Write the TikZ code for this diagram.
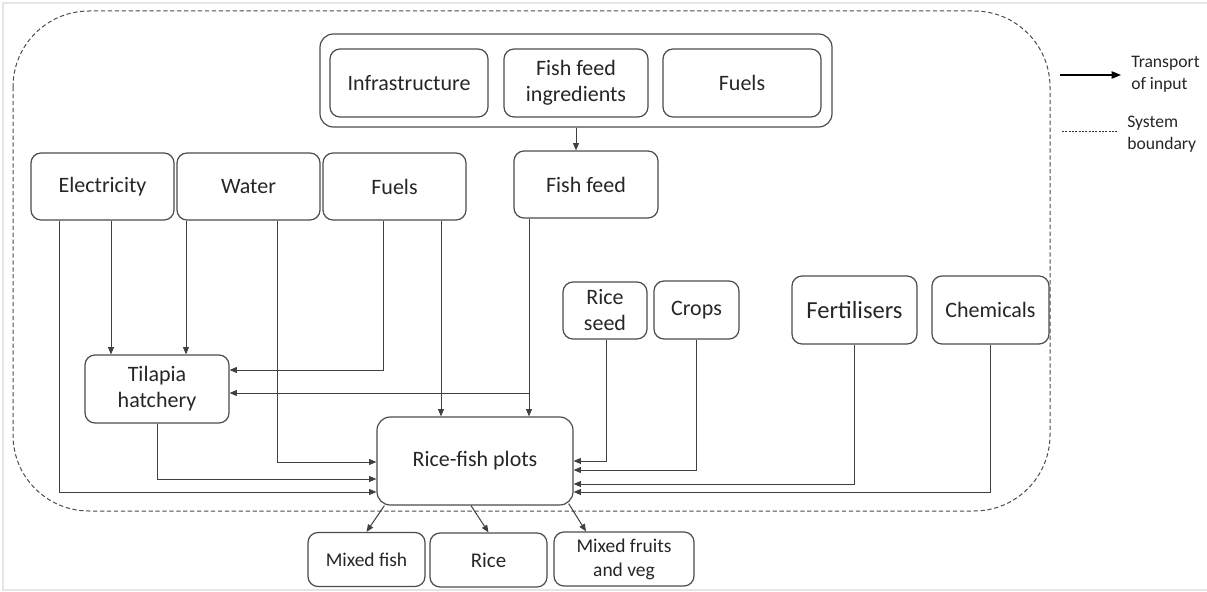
\documentclass[tikz,border=0pt]{standalone}
\usepackage{fontspec}
\setmainfont{Carlito}
\usetikzlibrary{arrows.meta}

\tikzset{
  box/.style={draw=black!70, line width=0.9pt, rounded corners=7.5pt, align=center, inner sep=0pt,
    text=black!85, font=\fontsize{16.5}{19.5}\selectfont},
  outbox/.style={box, font=\fontsize{14.6}{18}\selectfont, minimum width=87.75pt, minimum height=40.5pt},
  arr/.style={draw=black!75, line width=0.75pt, -{Triangle[length=5.5pt,width=4.5pt]}},
  legtext/.style={anchor=west, align=left, inner sep=0pt, text=black!85, font=\fontsize{13.2}{16.5}\selectfont}
}

\begin{document}
\begin{tikzpicture}[x=0.75pt,y=-0.75pt]
\useasboundingbox (0,0) rectangle (1207,592);
% Frame of the page
\draw[gray!20, line width=1.5pt] (1207,3) -- (3,3) -- (3,590) -- (1207,590);

% System boundary
\draw[black!70, line width=0.75pt, dash pattern=on 3.2pt off 2pt, rounded corners=57pt] (13,11) rectangle (1050,511);

% Inputs of fish feed
\node[box, rounded corners=10pt, minimum width=384pt, minimum height=69.75pt] (group) at (576,80.5) {};
\node[box, minimum width=118.5pt, minimum height=51pt] (infra) at (409,83) {Infrastructure};
\node[box, minimum width=108pt, minimum height=51pt] (ffi) at (576,83) {Fish feed\\ingredients};
\node[box, minimum width=118.5pt, minimum height=51pt] (fuelstop) at (742,83) {Fuels};
\node[box, minimum width=108pt, minimum height=50.25pt] (fishfeed) at (586,184.5) {Fish feed};

% Inputs on the left
\node[box, minimum width=107.25pt, minimum height=50.25pt] (elec) at (102.5,186.5) {Electricity};
\node[box, minimum width=107.25pt, minimum height=50.25pt] (water) at (248.5,186.5) {Water};
\node[box, minimum width=107.25pt, minimum height=50.25pt] (fuels) at (394.5,186.5) {Fuels};
\node[box, minimum width=108pt, minimum height=51pt] (hatch) at (157,389) {Tilapia\\hatchery};

% Inputs on the right
\node[box, minimum width=63pt, minimum height=42.75pt] (riceseed) at (605,310.5) {Rice\\seed};
\node[box, minimum width=63.75pt, minimum height=43.5pt] (crops) at (696.5,310) {Crops};
\node[box, minimum width=93.75pt, minimum height=51pt, font=\fontsize{18.4}{22}\selectfont] (fert) at (854.5,310) {Fertilisers};
\node[box, minimum width=87.75pt, minimum height=51pt] (chem) at (990.5,310) {Chemicals};

% The plots and what they give
\node[box, rounded corners=10pt, minimum width=147pt, minimum height=66pt] (rf) at (475,461) {Rice-fish plots};
\node[outbox] (mfish) at (366.5,559.5) {Mixed fish};
\node[outbox, font=\fontsize{15.7}{19}\selectfont] (rice) at (488.5,560) {Rice};
\node[outbox, minimum width=105pt] (mfruit) at (624,559) {Mixed fruits\\and veg};

% Transport of inputs
\draw[arr] (group.south) -- (fishfeed.north -| group.south);
\draw[arr] (elec.south -| 59,0) |- (rf.west |- 0,492);
\draw[arr] (elec.south -| 111,0) -- (hatch.north -| 111,0);
\draw[arr] (water.south -| 186,0) -- (hatch.north -| 186,0);
\draw[arr] (water.south -| 277,0) |- (rf.west |- 0,462);
\draw[arr] (fuels.south -| 383,0) |- (hatch.east |- 0,370);
\draw[arr] (fuels.south -| 441,0) -- (rf.north -| 441,0);
\draw[arr] (fishfeed.south -| 529,0) -- (rf.north -| 529,0);
\coordinate (ffsplit) at (529,393);
\draw[arr] (ffsplit) -- (hatch.east |- ffsplit);
\draw[arr] (hatch.south) |- (rf.west |- 0,479);
\draw[arr] (riceseed.south -| 606,0) |- (rf.east |- 0,461);
\draw[arr] (crops.south -| 696,0) |- (rf.east |- 0,470);
\draw[arr] (fert.south -| 854,0) |- (rf.east |- 0,484);
\draw[arr] (chem.south -| 990,0) |- (rf.east |- 0,492);

% Outputs
\draw[arr] ([xshift=6pt]rf.south west) -- (mfish.north);
\draw[arr] ([xshift=-3pt]rf.south) -- (rice.north);
\draw[arr] ([xshift=-3.75pt,yshift=1.5pt]rf.south east) -- ([xshift=-28.5pt]mfruit.north);

% Legend
\coordinate (legarrA) at (1060,75);
\coordinate (legarrB) at (1121,75);
\coordinate (legdashA) at (1062,131);
\coordinate (legdashB) at (1117,131);
\draw[black, line width=0.9pt, -{Triangle[length=7pt,width=5.5pt]}] (legarrA) -- (legarrB);
\draw[black!80, line width=0.7pt, dash pattern=on 1.5pt off 1pt] (legdashA) -- (legdashB);
\node[legtext] (legarr) at (1131,74) {Transport\\of input};
\node[legtext] (legdash) at (1127,134) {System\\boundary};
\end{tikzpicture}
\end{document}
